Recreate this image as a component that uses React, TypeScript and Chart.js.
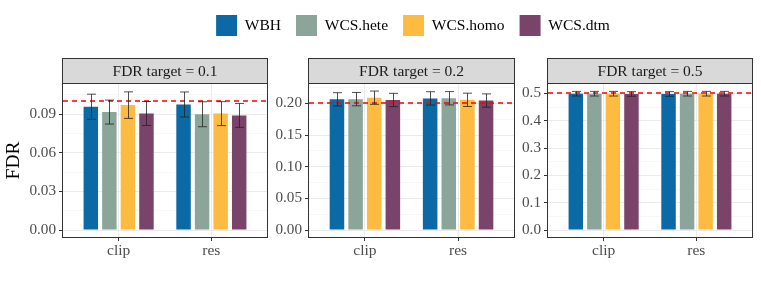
import React, { useEffect, useRef } from 'react';
import { Chart, registerables } from 'chart.js';

Chart.register(...registerables);

const FONT = "'Liberation Serif', 'Times New Roman', Times, serif";

// ---- data ----
const categories = ['clip', 'res'];
const methods = ['WBH', 'WCS.hete', 'WCS.homo', 'WCS.dtm'];
const methodColors = ['#0B69A6', '#8CA59A', '#FDBB42', '#7A4369'];
const fdrTargets = [0.1, 0.2, 0.5];

// mean FDR per panel (target 0.1, 0.2, 0.5), per category (clip, res)
const wbhMean = [[0.0957, 0.0975], [0.2063, 0.2078], [0.499, 0.498]];
const heteMean = [[0.0916, 0.0899], [0.2066, 0.208], [0.499, 0.499]];
const homoMean = [[0.097, 0.0904], [0.2089, 0.2055], [0.499, 0.499]];
const dtmMean = [[0.0905, 0.089], [0.2053, 0.2044], [0.498, 0.499]];

// error-bar half widths
const wbhErr = [[0.0098, 0.0097], [0.0105, 0.0105], [0.0085, 0.0085]];
const heteErr = [[0.0093, 0.0097], [0.0105, 0.0105], [0.0085, 0.0085]];
const homoErr = [[0.0103, 0.0093], [0.0105, 0.0105], [0.0085, 0.0085]];
const dtmErr = [[0.0093, 0.0093], [0.0105, 0.0105], [0.0085, 0.0085]];

const means = [wbhMean, heteMean, homoMean, dtmMean];
const errs = [wbhErr, heteErr, homoErr, dtmErr];

// y axis ticks & limits per panel
const yTickValues = [
  [0, 0.03, 0.06, 0.09],
  [0, 0.05, 0.1, 0.15, 0.2],
  [0, 0.1, 0.2, 0.3, 0.4, 0.5],
];
const yTickLabels = [
  ['0.00', '0.03', '0.06', '0.09'],
  ['0.00', '0.05', '0.10', '0.15', '0.20'],
  ['0.0', '0.1', '0.2', '0.3', '0.4', '0.5'],
];
const yLimits = [
  [-0.0054, 0.1134],
  [-0.011, 0.2305],
  [-0.0255, 0.5345],
];
const yTitle = 'FDR';

// ---- layout ----
const panelBoxes = [
  { left: 0, width: 272, axisW: 63, padRight: 5 },
  { left: 272, width: 246, axisW: 37, padRight: 4 },
  { left: 518, width: 243, axisW: 30, padRight: 9 },
];
const PANEL_TOP = 50;
const PANEL_H = 236;
const STRIP_H = 25;

function makePanelPlugin(idx: number) {
  return {
    id: 'panelDeco' + idx,
    afterDatasetsDraw(chart: any) {
      const { ctx, chartArea: a, scales } = chart;
      const ys = scales.y;
      // target line
      ctx.save();
      ctx.strokeStyle = '#FF0000';
      ctx.lineWidth = 1.6;
      ctx.setLineDash([5, 4]);
      const ty = Math.round(ys.getPixelForValue(fdrTargets[idx]));
      ctx.beginPath();
      ctx.moveTo(a.left, ty);
      ctx.lineTo(a.right, ty);
      ctx.stroke();
      ctx.restore();
      // error bars
      ctx.save();
      ctx.strokeStyle = 'rgba(35,35,35,0.8)';
      ctx.lineWidth = 1;
      methods.forEach((_m, i) => {
        const meta = chart.getDatasetMeta(i);
        meta.data.forEach((el: any, j: number) => {
          const mu = means[i][idx][j];
          const e = errs[i][idx][j];
          const x = Math.round(el.x) + 0.5;
          const y1 = ys.getPixelForValue(mu + e);
          const y2 = ys.getPixelForValue(mu - e);
          const hw = 4.5;
          ctx.beginPath();
          ctx.moveTo(x, y1);
          ctx.lineTo(x, y2);
          ctx.moveTo(x - hw, y1);
          ctx.lineTo(x + hw, y1);
          ctx.moveTo(x - hw, y2);
          ctx.lineTo(x + hw, y2);
          ctx.stroke();
        });
      });
      ctx.restore();
    },
    afterDraw(chart: any) {
      const { ctx, chartArea: a } = chart;
      const l = Math.round(a.left) - 0.5;
      const r = Math.round(a.right) + 0.5;
      const t = Math.round(a.top) - 0.5;
      const b = Math.round(a.bottom) + 0.5;
      ctx.save();
      // panel border
      ctx.strokeStyle = '#333333';
      ctx.lineWidth = 1;
      ctx.strokeRect(l, t, r - l, b - t);
      // strip
      ctx.fillStyle = '#D9D9D9';
      ctx.fillRect(l, t - STRIP_H, r - l, STRIP_H);
      ctx.strokeRect(l, t - STRIP_H, r - l, STRIP_H);
      ctx.fillStyle = '#1A1A1A';
      ctx.font = `15.5px ${FONT}`;
      ctx.textAlign = 'center';
      ctx.textBaseline = 'middle';
      ctx.fillText(`FDR target = ${fdrTargets[idx]}`, (l + r) / 2, t - STRIP_H / 2 + 1);
      ctx.restore();
    },
  };
}

function Panel({ idx }: { idx: number }) {
  const ref = useRef<HTMLCanvasElement>(null);
  const box = panelBoxes[idx];
  useEffect(() => {
    if (!ref.current) return;
    const majors = yTickValues[idx];
    const step = majors[1] - majors[0];
    const minors = majors.map((v) => v + step / 2).filter((v) => v < yLimits[idx][1]);
    const allTicks = [...majors, ...minors].sort((p, q) => p - q);
    const majorIndex = (v: number) => majors.findIndex((m) => Math.abs(m - v) < 1e-9);

    const chart = new Chart(ref.current, {
      type: 'bar',
      data: {
        datasets: methods.map((m, i) => ({
          label: m,
          data: categories.map((_c, j) => ({ x: j + 1, y: means[i][idx][j] })),
          backgroundColor: methodColors[i],
          borderWidth: 0,
          categoryPercentage: 0.8,
          barPercentage: 0.78,
        })),
      },
      options: {
        responsive: false,
        animation: false,
        devicePixelRatio: 1,
        layout: { padding: { top: 34, right: box.padRight, bottom: 0, left: 0 } },
        plugins: {
          legend: { display: false },
          tooltip: { enabled: false },
        },
        scales: {
          x: {
            type: 'linear',
            min: 0.4,
            max: 2.6,
            offset: false,
            border: { display: false },
            grid: {
              offset: false,
              color: '#EBEBEB',
              lineWidth: 1,
              tickColor: '#333333',
              tickLength: 4,
              tickWidth: 1,
            },
            afterBuildTicks: (s: any) => {
              s.ticks = categories.map((_c, j) => ({ value: j + 1 }));
            },
            ticks: {
              callback: (v: any) => categories[Math.round(Number(v)) - 1] ?? '',
              color: '#4D4D4D',
              font: { family: FONT, size: 15.5 },
              padding: 1,
              maxRotation: 0,
              autoSkip: false,
            },
            afterFit: (s: any) => {
              s.height = 49;
            },
          },
          y: {
            type: 'linear',
            min: yLimits[idx][0],
            max: yLimits[idx][1],
            border: { display: false },
            afterBuildTicks: (s: any) => {
              s.ticks = allTicks.map((v) => ({ value: v }));
            },
            ticks: {
              autoSkip: false,
              callback: (v: any) => {
                const k = majorIndex(Number(v));
                return k >= 0 ? yTickLabels[idx][k] : '';
              },
              color: '#4D4D4D',
              font: { family: FONT, size: 15.2 },
              padding: 3,
            },
            grid: {
              color: (c: any) => (c.tick && majorIndex(c.tick.value) >= 0 ? '#EBEBEB' : '#F3F3F3'),
              lineWidth: (c: any) => (c.tick && majorIndex(c.tick.value) >= 0 ? 1 : 0.7),
              tickColor: (c: any) => (c.tick && majorIndex(c.tick.value) >= 0 ? '#333333' : 'rgba(0,0,0,0)'),
              tickLength: 4,
              tickWidth: 1,
            },
            title:
              idx === 0
                ? {
                    display: true,
                    text: yTitle,
                    color: '#000000',
                    font: { family: FONT, size: 19.5 },
                    padding: { top: 2, bottom: 0 },
                  }
                : { display: false },
            afterFit: (s: any) => {
              s.width = box.axisW;
            },
          },
        },
      } as any,
      plugins: [makePanelPlugin(idx)],
    });
    return () => chart.destroy();
  }, []);
  return (
    <canvas
      ref={ref}
      width={box.width}
      height={PANEL_H}
      style={{ position: 'absolute', left: box.left, top: PANEL_TOP, width: box.width, height: PANEL_H }}
    />
  );
}

function Legend() {
  const ref = useRef<HTMLCanvasElement>(null);
  useEffect(() => {
    if (!ref.current) return;
    const chart = new Chart(ref.current, {
      type: 'bar',
      data: {
        labels: [],
        datasets: methods.map((m, i) => ({
          label: m,
          data: [],
          backgroundColor: methodColors[i],
          borderWidth: 0,
        })),
      },
      options: {
        responsive: false,
        animation: false,
        devicePixelRatio: 1,
        layout: { padding: 0 },
        plugins: {
          legend: {
            display: true,
            position: 'top',
            align: 'center',
            labels: {
              boxWidth: 21,
              boxHeight: 21,
              padding: 15,
              color: '#000000',
              font: { family: FONT, size: 15.5 },
            },
          },
          tooltip: { enabled: false },
        },
        scales: { x: { display: false }, y: { display: false } },
      } as any,
    });
    return () => chart.destroy();
  }, []);
  return (
    <canvas
      ref={ref}
      width={696}
      height={160}
      style={{ position: 'absolute', left: 65, top: 0, width: 696, height: 160 }}
    />
  );
}

export default function App() {
  return (
    <div
      style={{
        position: 'absolute',
        left: 0,
        top: 0,
        width: 761,
        height: 286,
        background: '#ffffff',
        overflow: 'hidden',
      }}
    >
      <Legend />
      <Panel idx={0} />
      <Panel idx={1} />
      <Panel idx={2} />
    </div>
  );
}
